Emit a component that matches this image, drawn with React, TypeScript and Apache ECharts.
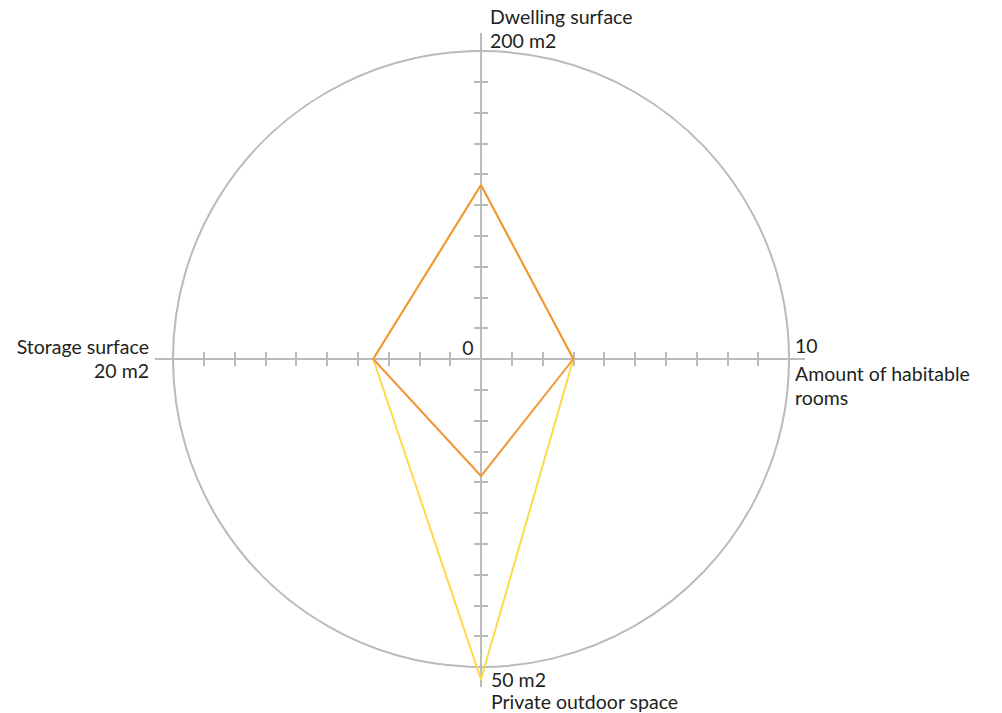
import React, { useEffect, useRef } from "react";
import * as echarts from "echarts";

// Indicators in counter-clockwise order starting at the top
const indicatorNames = ["Dwelling surface", "Storage surface", "Private outdoor space", "Amount of habitable rooms"];
const indicatorMax = [200, 20, 50, 10];
const maxLabels = ["200 m2", "20 m2", "50 m2", "10"];
const zeroLabel = "0";
const tickSteps = 10; // ticks per half-axis

const outdoorSeries = [113, 7, 52, 3];
const dwellingSeries = [113, 7, 19, 3];

const W = 1002;
const H = 713;
const CX = 481;
const CY = 359;
const R = 308;
const EXT = 18;
const GRAY = "#bbbbbb";
const TEXT = "#231f20";
const FONT = "Lato, 'Open Sans', sans-serif";
const FS = 19.5;

export default function App() {
  const ref = useRef<HTMLDivElement>(null);
  useEffect(() => {
    if (!ref.current) return;
    const chart = echarts.init(ref.current, undefined, { renderer: "svg" });
    const indicators = indicatorNames.map((name, i) => ({ name, max: indicatorMax[i], min: 0 }));
    const ringColors = Array.from({ length: tickSteps + 1 }, (_, i) => (i === tickSteps ? GRAY : "rgba(0,0,0,0)"));
    const txt = (x: number, y: number, text: string, align: string, lh: number) => ({
      type: "text",
      x,
      y,
      style: {
        text,
        fill: TEXT,
        font: `${FS}px ${FONT}`,
        lineHeight: lh,
        textAlign: align,
        textVerticalAlign: "middle",
      },
      silent: true,
    });
    const ln = (x1: number, y1: number, x2: number, y2: number) => ({
      type: "line",
      shape: { x1, y1, x2, y2 },
      style: { stroke: GRAY, lineWidth: 2 },
      silent: true,
    });
    const gridBox = { left: CX - R, top: CY - R, width: 2 * R, height: 2 * R, containLabel: false };
    const tickAxis = (gridIndex: number, inside: boolean) => ({
      type: "value",
      gridIndex,
      min: -tickSteps,
      max: tickSteps,
      interval: 1,
      axisLine: { show: true, onZero: true, lineStyle: { color: GRAY, width: 2 } },
      axisTick: { show: true, inside, length: 7, lineStyle: { color: GRAY, width: 2 } },
      axisLabel: { show: false },
      splitLine: { show: false },
    });
    chart.setOption({
      animation: false,
      grid: [gridBox, gridBox],
      xAxis: [tickAxis(0, false), tickAxis(1, true)],
      yAxis: [tickAxis(0, false), tickAxis(1, true)],
      radar: {
        indicator: indicators,
        center: [CX, CY],
        radius: R,
        startAngle: 90,
        splitNumber: tickSteps,
        shape: "circle",
        axisName: { show: false },
        splitArea: { show: false },
        axisLine: { show: true, lineStyle: { color: GRAY, width: 2 } },
        axisTick: { show: false },
        splitLine: { show: true, lineStyle: { color: ringColors, width: 2 } },
      },
      series: [
        {
          type: "radar",
          symbol: "none",
          lineStyle: { color: "#fdd94b", width: 2 },
          data: [{ value: outdoorSeries, name: "Outdoor" }],
          z: 2,
        },
        {
          type: "radar",
          symbol: "none",
          lineStyle: { color: "#f29637", width: 2 },
          data: [{ value: dwellingSeries, name: "Dwelling" }],
          z: 3,
        },
      ],
      graphic: [
        ln(CX, CY - R - EXT, CX, CY - R),
        ln(CX, CY + R, CX, CY + R + EXT + 2),
        ln(CX - R - EXT, CY, CX - R, CY),
        ln(CX + R, CY, CX + R + EXT - 2, CY),
        txt(490, 28, indicatorNames[0] + "\n" + maxLabels[0], "left", 24),
        txt(149, 358, indicatorNames[1] + "\n" + maxLabels[1], "right", 24),
        txt(491, 690, maxLabels[2] + "\n" + indicatorNames[2], "left", 22),
        txt(795, 345, maxLabels[3], "left", 24),
        txt(795, 385, "Amount of habitable\nrooms", "left", 24),
        txt(468, 347, zeroLabel, "center", 24),
      ],
    });
    return () => chart.dispose();
  }, []);
  return (
    <div
      ref={ref}
      style={{ position: "fixed", left: 0, top: 0, width: W, height: H, background: "#fff" }}
    />
  );
}
